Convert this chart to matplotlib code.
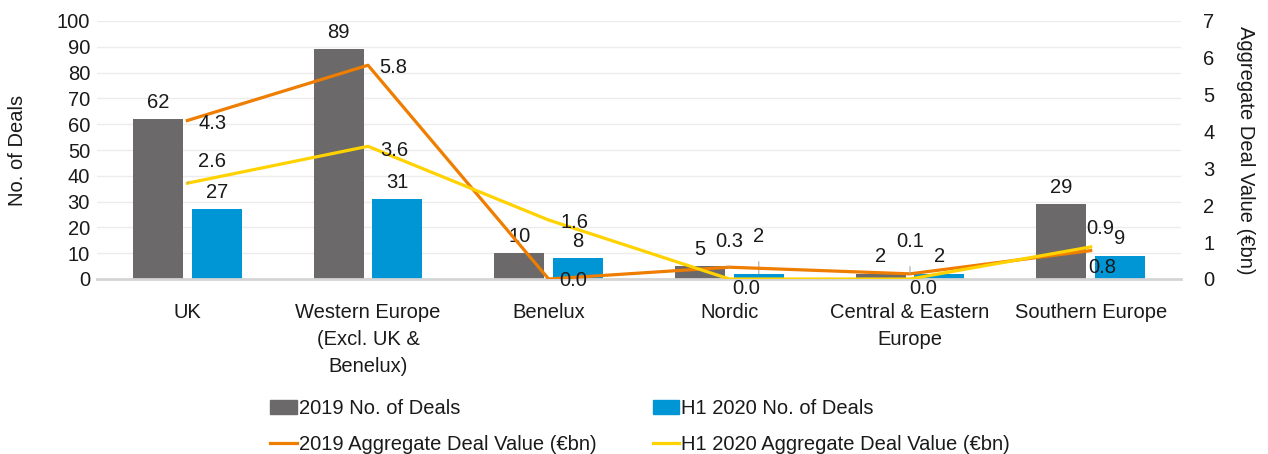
import matplotlib
matplotlib.use("Agg")
import matplotlib.pyplot as plt
import numpy as np
from matplotlib.patches import Patch
from matplotlib.lines import Line2D

plt.rcParams['font.family'] = ['Liberation Sans', 'DejaVu Sans']
plt.rcParams['font.size'] = 14.5

# data
regions = ["UK", "Western Europe\n(Excl. UK &\nBenelux)", "Benelux", "Nordic",
           "Central & Eastern\nEurope", "Southern Europe"]
deals_2019 = [62, 89, 10, 5, 2, 29]
deals_2020 = [27, 31, 8, 2, 2, 9]
value_2019 = [4.3, 5.8, 0.0, 0.32, 0.14, 0.77]
value_2020 = [2.6, 3.6, 1.6, 0.0, 0.0, 0.87]

grey = '#6b6969'
blue = '#0096d6'
orange = '#ee7d00'
yellow = '#ffd200'
txt = '#1a1a1a'

fig = plt.figure(figsize=(12.68, 4.54), dpi=100)
ax = fig.add_axes([97/1268, 1-279/454, (1181-97)/1268, (279-21)/454])
ax2 = ax.twinx()

x = np.arange(len(regions))
w = 0.277
ax.bar(x - 0.163, deals_2019, w, color=grey, zorder=2)
ax.bar(x + 0.163, deals_2020, w, color=blue, zorder=2)

ax.set_ylim(0, 100)
ax.set_xlim(-0.5, len(regions) - 0.5)
ax.set_yticks(range(0, 101, 10))
ax.set_xticks(x)
ax.set_xticklabels(regions, linespacing=1.55)
ax.grid(axis='y', color='#ececec', lw=1, zorder=0)
ax.set_axisbelow(True)
for s in ['top', 'left', 'right']:
    ax.spines[s].set_visible(False)
ax.spines['bottom'].set_color('#d4d4d4')
ax.spines['bottom'].set_linewidth(2)
ax.tick_params(axis='both', length=0, colors=txt)
ax.tick_params(axis='y', pad=5)
ax.tick_params(axis='x', pad=17)
ax.set_ylabel("No. of Deals", color=txt)
ax.yaxis.set_label_coords((27 - 97) / 1084, 0.5)

ax2.plot(x, value_2019, color=orange, lw=2.3, zorder=3)
ax2.plot(x, value_2020, color=yellow, lw=2.3, zorder=3)
ax2.set_ylim(0, 7)
ax2.set_yticks(range(0, 8))
for s in ['top', 'left', 'right', 'bottom']:
    ax2.spines[s].set_visible(False)
ax2.tick_params(axis='y', length=0, pad=16, colors=txt)
ax2.set_ylabel("Aggregate Deal Value (€bn)", rotation=-90, color=txt)
ax2.yaxis.set_label_coords((1255 - 97) / 1084, 0.5)

def lab(axis, xv, yv, s, dx, dy, leader=False):
    kw = {}
    if leader:
        kw['arrowprops'] = dict(arrowstyle='-', color='#a6a6a6', lw=0.8,
                                shrinkA=9, shrinkB=0)
    axis.annotate(s, (xv, yv), xytext=(dx, -dy), textcoords='offset pixels',
                  ha='center', va='center', color=txt, **kw)

# bar labels (offsets in pixels: dx right, dy down)
for i, v in enumerate(deals_2019):
    lab(ax, x[i] - 0.163, v, str(v), 0, -17)
for i, v in enumerate(deals_2020):
    if i == 3:
        lab(ax, x[i] + 0.163, v, str(v), 0, -37, leader=True)
    else:
        lab(ax, x[i] + 0.163, v, str(v), 0, -17)

# line labels
off19 = [(25, 3), (25, 2), (25, 2), (0, -26), (0, -32), (12, 17)]
off20 = [(25, -22), (26, 4), (26, 2), (17, 10), (13, 10), (10, -18)]
lead19 = [False, False, False, True, True, False]
lead20 = [True, False, False, False, False, False]
for i, v in enumerate(value_2019):
    lab(ax2, x[i], v, f"{v:.1f}", off19[i][0], off19[i][1], lead19[i])
for i, v in enumerate(value_2020):
    lab(ax2, x[i], v, f"{v:.1f}", off20[i][0], off20[i][1], lead20[i])

handles = [Patch(color=grey), Line2D([], [], color=orange, lw=2.3),
           Patch(color=blue), Line2D([], [], color=yellow, lw=2.3)]
labels = ["2019 No. of Deals", "2019 Aggregate Deal Value (€bn)",
          "H1 2020 No. of Deals", "H1 2020 Aggregate Deal Value (€bn)"]
fig.legend(handles, labels, loc='upper left', bbox_to_anchor=(270/1268, 1-399/454),
           ncol=2, frameon=False, borderpad=0, borderaxespad=0,
           handlelength=1.32, handleheight=0.7, handletextpad=0.1,
           labelspacing=0.85, columnspacing=2.8, labelcolor=txt)

fig.savefig("out.png", dpi=100)
